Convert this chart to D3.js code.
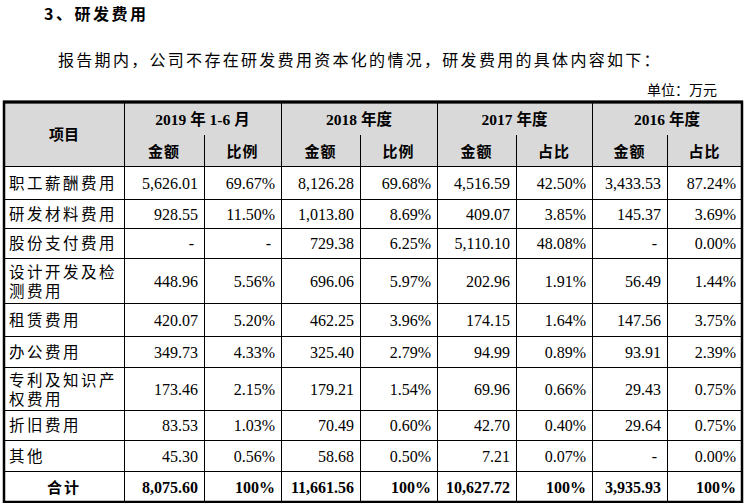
<!DOCTYPE html>
<html><head><meta charset="utf-8">
<script src="https://cdn.jsdelivr.net/npm/d3@7"></script>
<style>body{margin:0;background:#fff}</style></head>
<body><svg id="c" width="745" height="503"></svg>
<script>
const periods = ["2019 年 1-6 月","2018 年度","2017 年度","2016 年度"];
const subHeads = ["金额","比例","金额","比例","金额","占比","金额","占比"];
const items = [["职工薪酬费用"],["研发材料费用"],["股份支付费用"],["设计开发及检","测费用"],["租赁费用"],["办公费用"],["专利及知识产","权费用"],["折旧费用"],["其他"],["合计"]];
const values = [
 ["5,626.01","69.67%","8,126.28","69.68%","4,516.59","42.50%","3,433.53","87.24%"],
 ["928.55","11.50%","1,013.80","8.69%","409.07","3.85%","145.37","3.69%"],
 ["-","-","729.38","6.25%","5,110.10","48.08%","-","0.00%"],
 ["448.96","5.56%","696.06","5.97%","202.96","1.91%","56.49","1.44%"],
 ["420.07","5.20%","462.25","3.96%","174.15","1.64%","147.56","3.75%"],
 ["349.73","4.33%","325.40","2.79%","94.99","0.89%","93.91","2.39%"],
 ["173.46","2.15%","179.21","1.54%","69.96","0.66%","29.43","0.75%"],
 ["83.53","1.03%","70.49","0.60%","42.70","0.40%","29.64","0.75%"],
 ["45.30","0.56%","58.68","0.50%","7.21","0.07%","-","0.00%"],
 ["8,075.60","100%","11,661.56","100%","10,627.72","100%","3,935.93","100%"]
];
const colX=[4,124,204,281,360,437,516,592,667,742];
const rowY=[166,199,228,258,303,336,367,410,440,471,503];
const svg=d3.select("#c");
const cjk="'Noto Sans CJK SC',sans-serif", ser="'Liberation Serif',serif";
svg.append("text").attr("x",44).attr("y",20).attr("font-family",cjk).attr("font-weight","bold").attr("font-size",16).attr("letter-spacing",2.5).text("3、研发费用");
svg.append("text").attr("x",58).attr("y",66).attr("font-family",cjk).attr("font-size",16).attr("letter-spacing",2.3).text("报告期内，公司不存在研发费用资本化的情况，研发费用的具体内容如下：");
svg.append("text").attr("x",717).attr("y",95).attr("text-anchor","end").attr("font-family",cjk).attr("font-size",14).text("单位：万元");
svg.append("rect").attr("x",4).attr("y",103).attr("width",738).attr("height",63).attr("fill","#d9d9d9");
const g=svg.append("g").attr("stroke","#000").attr("stroke-width",1);
rowY.slice(0,-1).forEach(y=>g.append("line").attr("x1",4).attr("x2",742).attr("y1",y+.5).attr("y2",y+.5));
colX.slice(1,-1).forEach((x,i)=>{const top=(i%2===1)?135:103;g.append("line").attr("x1",x+.5).attr("x2",x+.5).attr("y1",top).attr("y2",503);});
svg.append("rect").attr("x",4).attr("y",102).attr("width",738).attr("height",400).attr("fill","none").attr("stroke","#000").attr("stroke-width",2.5);
svg.append("line").attr("x1",3).attr("x2",743).attr("y1",102).attr("y2",102).attr("stroke","#000").attr("stroke-width",3);
svg.append("text").attr("x",64).attr("y",140).attr("text-anchor","middle").attr("font-family",cjk).attr("font-weight","bold").attr("font-size",15).text("项目");
periods.forEach((p,i)=>{
 const t=svg.append("text").attr("x",(colX[1+2*i]+colX[3+2*i])/2).attr("y",125).attr("text-anchor","middle").attr("font-weight","bold").attr("font-size",15.5).attr("font-family",ser);
 p.split(/(年|月|年度)/).filter(s=>s).forEach(s=>t.append("tspan").attr("font-family",/[年月度]/.test(s)?cjk:ser).text(s));
});
subHeads.forEach((s,i)=>svg.append("text").attr("x",(colX[1+i]+colX[2+i])/2).attr("y",157).attr("text-anchor","middle").attr("font-family",cjk).attr("font-weight","bold").attr("font-size",15).attr("letter-spacing",1).text(s));
items.forEach((it,r)=>{
 const y0=rowY[r],y1=rowY[r+1],mid=(y0+y1)/2;
 const last=r===items.length-1;
 const lab=(txt,y)=>svg.append("text").attr("x",9).attr("y",y).attr("font-family",cjk).attr("font-size",15.5).attr("letter-spacing",2.5).text(txt);
 if(last){svg.append("text").attr("x",64).attr("y",mid+6).attr("text-anchor","middle").attr("font-family",cjk).attr("font-weight","bold").attr("font-size",15).attr("letter-spacing",2).text(it[0]);}
 else if(it.length===1){lab(it[0],mid+6);}
 else{lab(it[0],mid-3);lab(it[1],mid+16);}
 values[r].forEach((v,c)=>{
  const x=colX[c+2]-6;
  svg.append("text").attr("x",v==="-"?x-4:x).attr("y",mid+6).attr("text-anchor","end").attr("font-family",ser).attr("font-size",16).attr("font-weight",last?"bold":"normal").text(v);
 });
});
</script></body></html>
